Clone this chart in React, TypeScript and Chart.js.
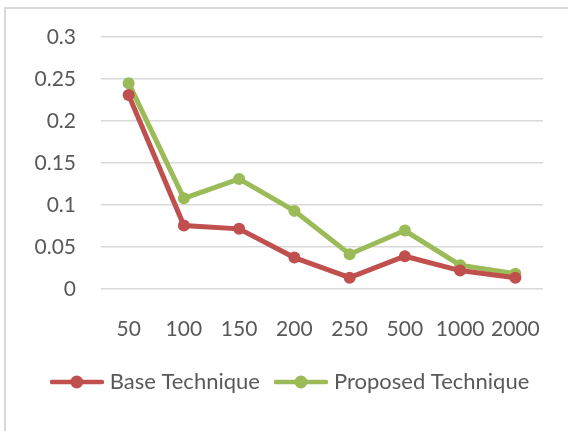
import React, { useEffect, useRef } from "react";
import { Chart, registerables } from "chart.js";

Chart.register(...registerables);

const categories = ["50", "100", "150", "200", "250", "500", "1000", "2000"];
const baseValues = [0.231, 0.0756, 0.0716, 0.0374, 0.0135, 0.039, 0.0219, 0.0135];
const proposedValues = [0.245, 0.108, 0.131, 0.093, 0.0414, 0.0696, 0.0283, 0.0183];
const seriesNames = ["Base Technique", "Proposed Technique"];
const seriesColors = ["#C0504D", "#9BBB59"];

const FONT = "Lato, 'Open Sans', sans-serif";
const TEXT_COLOR = "#595959";

function legendIcon(color: string): HTMLCanvasElement {
  const c = document.createElement("canvas");
  c.width = 54;
  c.height = 14;
  const ctx = c.getContext("2d")!;
  ctx.strokeStyle = color;
  ctx.lineWidth = 4.5;
  ctx.lineCap = "round";
  ctx.beginPath();
  ctx.moveTo(2, 7);
  ctx.lineTo(52, 7);
  ctx.stroke();
  ctx.fillStyle = color;
  ctx.beginPath();
  ctx.arc(27, 7, 6.5, 0, Math.PI * 2);
  ctx.fill();
  return c;
}

export default function App() {
  const ref = useRef<HTMLCanvasElement | null>(null);

  useEffect(() => {
    if (!ref.current) return;
    const icons = seriesColors.map(legendIcon);
    const chart = new Chart(ref.current, {
      type: "line",
      data: {
        labels: categories,
        datasets: [
          {
            label: seriesNames[0],
            data: baseValues,
            borderColor: seriesColors[0],
            backgroundColor: seriesColors[0],
            borderWidth: 5,
            pointRadius: 6,
            pointBorderWidth: 0,
            pointBackgroundColor: seriesColors[0],
            tension: 0,
          },
          {
            label: seriesNames[1],
            data: proposedValues,
            borderColor: seriesColors[1],
            backgroundColor: seriesColors[1],
            borderWidth: 5,
            pointRadius: 6,
            pointBorderWidth: 0,
            pointBackgroundColor: seriesColors[1],
            tension: 0,
          },
        ],
      },
      options: {
        animation: false,
        responsive: false,
        maintainAspectRatio: false,
        layout: { padding: { top: 28, right: 0, left: 10, bottom: 28 } },
        plugins: {
          tooltip: { enabled: false },
          legend: {
            position: "bottom",
            labels: {
              usePointStyle: true,
              pointStyleWidth: 44,
              padding: 19,
              color: TEXT_COLOR,
              font: { family: FONT, size: 22 },
              generateLabels: (ch: any) =>
                ch.data.datasets.map((ds: any, i: number) => ({
                  text: ds.label,
                  fillStyle: seriesColors[i],
                  strokeStyle: seriesColors[i],
                  lineWidth: 0,
                  pointStyle: icons[i],
                  hidden: false,
                  datasetIndex: i,
                  fontColor: TEXT_COLOR,
                })),
            },
          },
        },
        scales: {
          x: {
            offset: true,
            grid: { display: false, drawTicks: false, offset: true },
            border: { display: false },
            ticks: {
              color: TEXT_COLOR,
              font: { family: FONT, size: 21 },
              padding: 28,
              maxRotation: 0,
              autoSkip: false,
            },
            afterFit: (s: any) => {
              s.height = 63;
              s.paddingLeft = 0;
              s.paddingRight = 0;
            },
          },
          y: {
            min: 0,
            max: 0.3,
            grid: { color: "#D9D9D9", lineWidth: 1.5, drawTicks: false },
            border: { display: false },
            ticks: {
              stepSize: 0.05,
              color: TEXT_COLOR,
              font: { family: FONT, size: 21 },
              padding: 25,
              callback: (v: any) => String(Math.round(Number(v) * 100) / 100),
            },
            afterFit: (s: any) => {
              s.width = 85;
              s.paddingTop = 0;
              s.paddingBottom = 0;
            },
          },
          yRight: {
            position: "right",
            display: true,
            grid: { display: false, drawTicks: false },
            border: { display: false },
            ticks: { display: false },
            afterFit: (s: any) => {
              s.width = 25;
              s.paddingTop = 0;
              s.paddingBottom = 0;
            },
          },
        },
      },
    });
    return () => chart.destroy();
  }, []);

  return (
    <div
      style={{
        position: "absolute",
        left: 4,
        top: 7,
        width: 564,
        height: 424,
        borderTop: "2px solid #D9D9D9",
        borderLeft: "2px solid #D9D9D9",
        boxSizing: "border-box",
        overflow: "hidden",
        background: "#fff",
      }}
    >
      <canvas ref={ref} width={562} height={422} style={{ display: "block" }} />
    </div>
  );
}
